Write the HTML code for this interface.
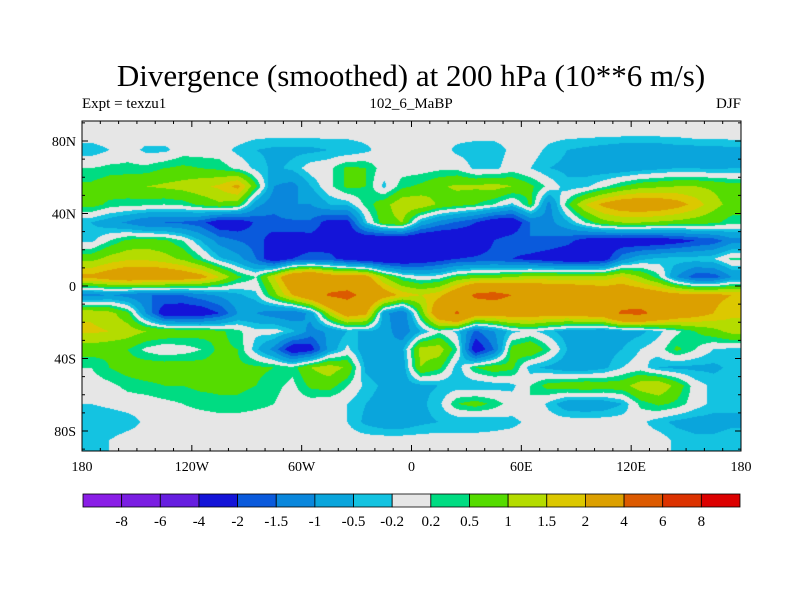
<!DOCTYPE html>
<html><head><meta charset="utf-8"><style>
body{margin:0;background:#fff;width:800px;height:600px;overflow:hidden;position:relative;font-family:"Liberation Serif",serif}
.t{position:absolute;white-space:nowrap;color:#000}
</style></head><body>
<div class="t" style="left:0;width:822px;text-align:center;top:58px;font-size:31px">Divergence (smoothed) at 200 hPa (10**6 m/s)</div>
<div class="t" style="left:82px;top:96px;font-size:15px">Expt = texzu1</div>
<div class="t" style="left:311px;width:200px;text-align:center;top:96px;font-size:15px">102_6_MaBP</div>
<div class="t" style="left:641px;width:100px;text-align:right;top:96px;font-size:15px">DJF</div>
<canvas id="map" width="659" height="330" style="position:absolute;left:82px;top:121px"></canvas>
<svg id="ov" width="800" height="600" style="position:absolute;left:0;top:0"></svg>
<script>
const lonCenters=[-175,-165,-155,-145,-135,-125,-115,-105,-95,-85,-75,-65,-55,-45,-35,-25,-15,-5,5,15,25,35,45,55,65,75,85,95,105,115,125,135,145,155,165,175];
const latCenters=[85,75,65,55,45,35,25,15,5,-5,-15,-25,-35,-45,-55,-65,-75,-85];
const row85=[0.1,0.1,0,0.1,0.1,0,0,0,0.1,0,0,0,0,0,0,0,0,0,0,0,0,0,0,0,0,0,0,0,0,0,0,0,0,0.1,0.1,0.1];
const row75=[-0.4,-0.2,0,-0.3,-0.3,0,0,0,-0.3,-0.5,-0.6,-0.6,-0.6,-0.5,-0.5,-0.3,0,0,0,0,-0.3,-0.4,-0.4,-0.1,0,-0.3,-0.5,-0.6,-0.7,-0.8,-0.8,-0.8,-0.7,-0.7,-0.7,-0.6];
const row65=[0.2,0.3,0.3,0.3,0.5,0.6,0.5,0.4,0.1,-0.3,-0.6,-0.4,0,0.1,0.6,0.5,0,0,0,0.1,0.1,-0.3,-0.3,0,-0.2,-0.5,-0.6,-0.7,-0.8,-0.8,-0.7,-0.6,-0.5,-0.5,-0.6,-0.5];
const row55=[0.6,0.8,0.9,1.0,1.1,1.2,1.4,1.6,2.2,0.6,-1.0,-1.2,-0.5,0.1,0.6,0.5,-0.3,0.4,0.6,0.9,1.1,1.1,1.2,1.0,0.6,0.1,-0.4,-0.3,0.1,0.5,0.8,0.9,1.0,1.0,0.9,0.7];
const row45=[0.7,0.4,0.3,0.3,0.2,0.3,0.6,0.9,0.7,-0.8,-1.4,-1.0,-1.0,-0.5,-0.4,0.3,0.8,1.4,1.4,0.9,0.7,0.5,0.2,-0.3,0.6,-1.2,0.4,1.5,2.2,2.6,2.7,2.6,2.3,1.8,1.2,0.8];
const row35=[-0.5,-0.8,-1.1,-1.5,-1.5,-1.6,-1.8,-2.5,-2.5,-1.9,-1.6,-1.6,-1.6,-2.3,-2.3,-0.3,0.8,1.0,-0.6,-1.2,-1.6,-2.0,-2.6,-2.6,-1.5,-1.2,-0.6,0.2,0.8,1.0,1.0,0.9,0.8,0.7,0.6,0.3];
const row25=[-0.3,0.2,0.6,0.7,0.6,0.2,-0.5,-1.2,-1.5,-1.7,-2.4,-2.4,-2.3,-2.4,-2.6,-2.8,-3.0,-3.0,-3.0,-3.0,-2.8,-2.6,-2.0,-1.7,-1.5,-1.6,-1.8,-2.3,-2.5,-2.5,-2.6,-2.5,-2.3,-2.0,-1.8,-1.2];
const row15=[0.8,1.2,1.4,1.4,1.2,0.9,0.3,-0.4,-0.8,-1.5,-2.6,-2.0,-1.8,-1.8,-2.3,-2.6,-2.8,-2.8,-2.6,-2.3,-2.0,-1.9,-1.8,-2.0,-2.2,-2.4,-2.6,-2.6,-2.4,-1.2,-0.6,-0.4,-0.3,-0.3,-0.2,0.3];
const row5=[2.2,2.5,2.8,2.8,2.8,2.6,2.3,1.5,0.6,0.2,1.5,3.0,3.5,2.6,2.6,2.4,1.0,0.2,-0.1,0.0,0.6,0.8,0.8,1.0,1.2,1.2,1.2,1.2,1.2,1.6,1.0,0.3,-1.0,-1.8,-1.8,-1.0];
const rowS5=[-1.2,-1.0,-1.2,-1.5,-1.5,-1.5,-1.2,-0.9,-0.6,-0.3,0.8,2.0,3.0,4.2,4.5,3.5,2.5,1.8,1.5,1.8,2.8,4.3,4.6,4.0,3.6,3.3,3.2,3.0,2.8,2.7,2.7,2.5,2.3,2.2,2.2,2.0];
const rowS15=[1.4,1.2,0.6,-1.0,-2.5,-2.6,-2.5,-2.0,-1.0,-1.0,-1.3,-1.5,-0.8,1.2,2.6,2.2,-0.8,-1.5,0.6,3.0,4.2,2.6,2.5,2.6,2.6,2.4,2.4,2.6,2.8,4.3,4.4,3.5,2.8,2.4,2.0,1.6];
const rowS25=[1.6,1.5,1.3,1.0,0.9,0.8,0.7,0.6,0.3,-0.1,0.0,-0.4,-1.2,-0.9,-0.5,-0.5,-0.7,-1.4,-0.5,0.1,-0.3,-1.6,-1.0,-0.3,-0.1,-0.4,-0.7,-0.8,-0.9,-0.7,-0.6,-0.3,0.1,0.5,0.8,1.2];
const rowS35=[0.7,0.6,0.5,0.1,-0.1,0.0,0.2,0.6,0.5,-0.4,-1.2,-2.6,-2.3,-0.8,-0.1,-0.8,-1.0,-0.6,1.2,1.3,0.2,-2.6,-1.5,0.7,1.0,0.3,-0.5,-0.6,-0.7,-0.5,-0.2,0.0,0.6,0.2,-0.2,-0.3];
const rowS45=[0.2,0.5,0.7,0.8,0.8,0.8,0.7,0.7,0.6,0.6,0.5,0.3,1.0,1.3,0.9,-0.6,-0.8,-0.8,1.0,0.6,-0.4,0.5,0.8,0.6,-0.4,-0.6,-0.8,-0.8,-0.6,-0.2,0.0,-0.5,-0.6,-0.6,-0.6,-0.4];
const rowS55=[0.0,0.1,0.3,0.4,0.5,0.5,0.6,0.6,0.6,0.5,0.3,0.1,0.6,0.7,0.2,-0.3,-0.6,-0.7,-0.6,-0.5,-0.4,-0.5,-0.4,-0.3,0.2,0.7,0.8,0.9,0.8,0.8,1.3,1.5,0.8,0.0,-0.3,-0.3];
const rowS65=[-0.2,-0.1,0,0,0.1,0.2,0.3,0.4,0.4,0.3,0.2,0,0,-0.1,-0.2,-0.5,-0.7,-0.7,-0.6,-0.3,0.5,0.7,0.4,0,0.2,-0.3,-0.8,-0.9,-0.8,-0.5,0.3,0.6,0.4,0,-0.3,-0.4];
const rowS75=[-0.5,-0.5,-0.4,-0.1,0,0,0,0,0,0,0,0,0,0,-0.2,-0.6,-0.8,-0.8,-0.6,-0.5,-0.5,-0.5,-0.4,-0.3,-0.1,0,0,0,0,0,-0.1,-0.4,-0.6,-0.7,-0.7,-0.6];
const rowS85=[-0.3,-0.2,0,0,0,0,0,0,0,0,0,0,0,0,0,0,0,0,0,0,0,0,0,0,0,0,0,0,0,0,0,0,-0.3,-0.4,-0.4,-0.3];
const grid=[row85,row75,row65,row55,row45,row35,row25,row15,row5,rowS5,rowS15,rowS25,rowS35,rowS45,rowS55,rowS65,rowS75,rowS85];
const levels=[-8,-6,-4,-2,-1.5,-1,-0.5,-0.2,0.2,0.5,1,1.5,2,4,6,8];
const levelLabels=["-8","-6","-4","-2","-1.5","-1","-0.5","-0.2","0.2","0.5","1","1.5","2","4","6","8"];
const colors=["#8a1ee6","#7a1ee2","#661ee0","#1414d8","#0a5adc","#0a87dc","#0aa5dc","#14c3e1","#e6e6e6","#00dc82","#55dc00","#b4dc00","#dcc800","#dca000","#dc5a00","#dc3200","#dc0000"];
const xTicks=[-180,-120,-60,0,60,120,180];
const xTickLabels=["180","120W","60W","0","60E","120E","180"];
const yTicks=[80,40,0,-40,-80];
const yTickLabels=["80N","40N","0","40S","80S"];

const X0=82,X1=741,Y0=121,Y1=451;
function xScale(lon){return X0+(lon+180)/360*(X1-X0);}
function yScale(lat){return 286-lat*1.8125;}
function xInv(x){return (x-X0)/(X1-X0)*360-180;}
function yInv(y){return (286-y)/1.8125;}
function valueAt(lon,lat){
  let fi=(lon-lonCenters[0])/10, fj=(latCenters[0]-lat)/10;
  fi=Math.max(0,Math.min(lonCenters.length-1,fi)); fj=Math.max(0,Math.min(latCenters.length-1,fj));
  const i0=Math.floor(fi),j0=Math.floor(fj),i1=Math.min(i0+1,lonCenters.length-1),j1=Math.min(j0+1,latCenters.length-1);
  const a=fi-i0,b=fj-j0;
  return (grid[j0][i0]*(1-a)+grid[j0][i1]*a)*(1-b)+(grid[j1][i0]*(1-a)+grid[j1][i1]*a)*b;
}
function colorIndex(v){let k=0;while(k<levels.length&&v>=levels[k])k++;return k;}
const rgb=colors.map(c=>[parseInt(c.substr(1,2),16),parseInt(c.substr(3,2),16),parseInt(c.substr(5,2),16)]);
const cv=document.getElementById('map'),ctx=cv.getContext('2d');
const W=cv.width,H=cv.height,img=ctx.createImageData(W,H);
for(let py=0;py<H;py++){const lat=yInv(Y0+py+0.5);
  for(let px=0;px<W;px++){const lon=xInv(X0+px+0.5);const c=rgb[colorIndex(valueAt(lon,lat))];const o=(py*W+px)*4;
    img.data[o]=c[0];img.data[o+1]=c[1];img.data[o+2]=c[2];img.data[o+3]=255;}}
ctx.putImageData(img,0,0);

const NS='http://www.w3.org/2000/svg',ov=document.getElementById('ov');
function mk(tag,attrs){const e=document.createElementNS(NS,tag);for(const k in attrs)e.setAttribute(k,attrs[k]);ov.appendChild(e);return e;}
const frame=mk('rect',{x:X0,y:Y0,width:X1-X0,height:Y1-Y0,fill:'none',stroke:'#000','stroke-width':1});


for(let lon=-180;lon<=180;lon+=10){const x=xScale(lon),len=(lon%60===0)?6:3;
  const t1=mk('line',{x1:x,y1:Y0,x2:x,y2:Y0+len,stroke:'#000'});
  
  
  const t2=mk('line',{x1:x,y1:Y1,x2:x,y2:Y1-len,stroke:'#000'});
  
  }
for(let lat=-90;lat<=90;lat+=10){const y=yScale(lat),len=(lat%40===0)?6:3;
  const t1=mk('line',{x1:X0,y1:y,x2:X0+len,y2:y,stroke:'#000'});
  
  
  const t2=mk('line',{x1:X1,y1:y,x2:X1-len,y2:y,stroke:'#000'});
  
  }
xTicks.forEach((lon,i)=>{const t=mk('text',{x:xScale(lon),y:471,'text-anchor':'middle','font-size':14,'font-family':'Liberation Serif, serif'});t.textContent=xTickLabels[i];
  
  });
yTicks.forEach((lat,i)=>{const t=mk('text',{x:76,y:yScale(lat)+5,'text-anchor':'end','font-size':14,'font-family':'Liberation Serif, serif'});t.textContent=yTickLabels[i];
  
  });
const CB0=83,CB1=740,bw=(CB1-CB0)/colors.length;
colors.forEach((c,i)=>{const r=mk('rect',{x:CB0+i*bw,y:494,width:bw,height:13,fill:c,stroke:'#000','stroke-width':0.8});
  
  });
levelLabels.forEach((l,i)=>{const t=mk('text',{x:CB0+(i+1)*bw,y:526,'text-anchor':'middle','font-size':15,'font-family':'Liberation Serif, serif'});t.textContent=l;
  
  });
</script>
</body></html>
